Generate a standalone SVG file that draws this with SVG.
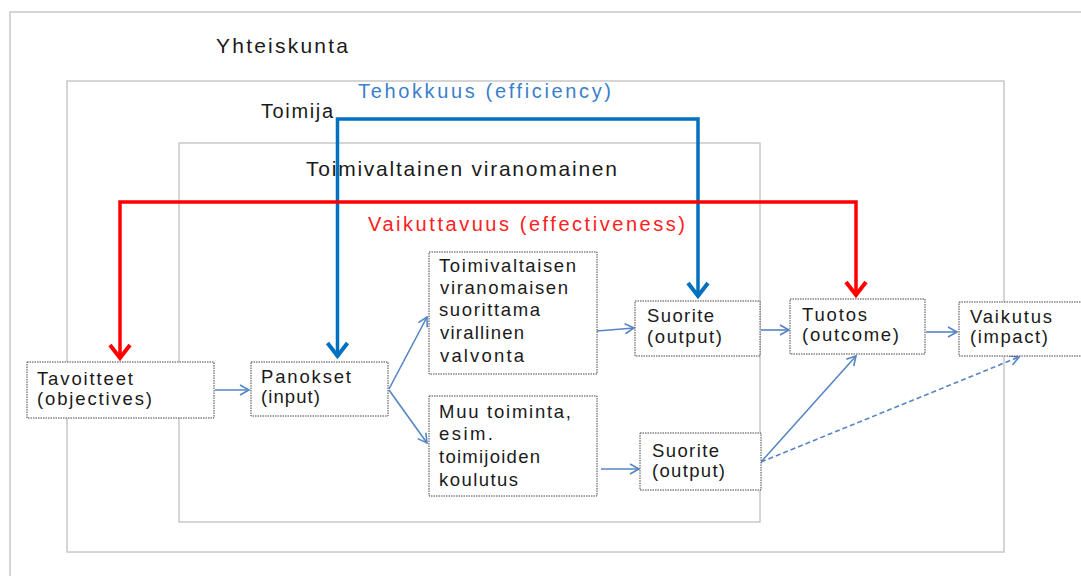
<svg xmlns="http://www.w3.org/2000/svg" width="1081" height="576" viewBox="0 0 1081 576">
<defs>
<style>
.frame{fill:none;stroke:#c8c8c8;stroke-width:1.5}
.box{fill:#fff;stroke:#444;stroke-width:1;stroke-dasharray:1.5 1}
.t{font-family:"Liberation Sans",Arial,sans-serif;fill:#1a1a1a}
.nt{font-size:18.5px}
.thin{fill:none;stroke:#5585C5;stroke-width:1.6}
.dash{stroke-dasharray:5 3}
.blue{fill:none;stroke:#0070C0;stroke-width:3.5}
.red{fill:none;stroke:#FF0000;stroke-width:3.5}
</style>
<marker id="ah" markerUnits="userSpaceOnUse" viewBox="-12 -7 14 14" refX="0" refY="0" markerWidth="14" markerHeight="14" orient="auto">
<path d="M-9,-5 L0,0 L-9,5" fill="none" stroke="#5585C5" stroke-width="1.6"/>
</marker>
<marker id="ab" markerUnits="userSpaceOnUse" viewBox="-18 -13 22 26" refX="0" refY="0" markerWidth="22" markerHeight="26" orient="auto-start-reverse">
<path d="M-14,-10 L-1,0 L-14,10" fill="none" stroke="#0070C0" stroke-width="4"/>
</marker>
<marker id="ar" markerUnits="userSpaceOnUse" viewBox="-18 -13 22 26" refX="0" refY="0" markerWidth="22" markerHeight="26" orient="auto-start-reverse">
<path d="M-14,-10 L-1,0 L-14,10" fill="none" stroke="#FF0000" stroke-width="4"/>
</marker>
</defs>
<rect width="1081" height="576" fill="#fff"/>
<g id="frames">
<rect class="frame" x="10" y="12" width="1100" height="600"/>
<rect class="frame" x="67" y="81" width="937" height="471"/>
<rect class="frame" x="179" y="143" width="581" height="379"/>
<text class="t" x="216" y="53" font-size="21" textLength="132" lengthAdjust="spacing">Yhteiskunta</text>
<text class="t" x="261" y="118" font-size="20" textLength="72" lengthAdjust="spacing">Toimija</text>
<text class="t" x="306" y="176" font-size="21" textLength="311" lengthAdjust="spacing">Toimivaltainen viranomainen</text>
</g>
<g id="connectors">
<path class="blue" d="M337.5,357 V119 H698 V297" marker-start="url(#ab)" marker-end="url(#ab)"/>
<path class="red" d="M120,359 V202 H856 V296" marker-start="url(#ar)" marker-end="url(#ar)"/>
<text class="t" x="358" y="98" font-size="20" style="fill:#3A7FCC" textLength="253" lengthAdjust="spacing">Tehokkuus (efficiency)</text>
<text class="t" x="368" y="231" font-size="20" style="fill:#FF2020" textLength="317" lengthAdjust="spacing">Vaikuttavuus (effectiveness)</text>
<path class="thin" d="M215,390 H249" marker-end="url(#ah)"/>
<path class="thin" d="M389,389 L427,317" marker-end="url(#ah)"/>
<path class="thin" d="M389,390 L427,443" marker-end="url(#ah)"/>
<path class="thin" d="M597,331 L634,328" marker-end="url(#ah)"/>
<path class="thin" d="M601,469 L639,469" marker-end="url(#ah)"/>
<path class="thin" d="M761,330 L789,330" marker-end="url(#ah)"/>
<path class="thin" d="M926,332 L957,332" marker-end="url(#ah)"/>
<path class="thin" d="M761,462 L856,356" marker-end="url(#ah)"/>
<path class="thin dash" d="M761,462 L1019,357" marker-end="url(#ah)"/>
</g>
<g id="n-tavoitteet">
<rect class="box" x="27" y="362" width="187" height="56"/>
<text class="t nt" x="37" y="385" textLength="96" lengthAdjust="spacing">Tavoitteet</text>
<text class="t nt" x="37" y="405" textLength="115" lengthAdjust="spacing">(objectives)</text>
</g>
<g id="n-panokset">
<rect class="box" x="251" y="362" width="137" height="54"/>
<text class="t nt" x="261" y="383" textLength="90" lengthAdjust="spacing">Panokset</text>
<text class="t nt" x="261" y="403" textLength="59" lengthAdjust="spacing">(input)</text>
</g>
<g id="n-valvonta">
<rect class="box" x="429" y="252" width="168" height="122"/>
<text class="t nt" x="439" y="272" textLength="137" lengthAdjust="spacing">Toimivaltaisen</text>
<text class="t nt" x="440" y="294" textLength="128" lengthAdjust="spacing">viranomaisen</text>
<text class="t nt" x="439" y="316" textLength="101" lengthAdjust="spacing">suorittama</text>
<text class="t nt" x="440" y="339" textLength="84" lengthAdjust="spacing">virallinen</text>
<text class="t nt" x="440" y="362" textLength="84" lengthAdjust="spacing">valvonta</text>
</g>
<g id="n-muu">
<rect class="box" x="429" y="396" width="168" height="100"/>
<text class="t nt" x="439" y="418" textLength="132" lengthAdjust="spacing">Muu toiminta,</text>
<text class="t nt" x="439" y="440" textLength="54" lengthAdjust="spacing">esim.</text>
<text class="t nt" x="439" y="463" textLength="101" lengthAdjust="spacing">toimijoiden</text>
<text class="t nt" x="439" y="486" textLength="79" lengthAdjust="spacing">koulutus</text>
</g>
<g id="n-suorite1">
<rect class="box" x="635" y="301" width="125" height="55"/>
<text class="t nt" x="647" y="322" textLength="67" lengthAdjust="spacing">Suorite</text>
<text class="t nt" x="647" y="343" textLength="75" lengthAdjust="spacing">(output)</text>
</g>
<g id="n-suorite2">
<rect class="box" x="640" y="433" width="121" height="57"/>
<text class="t nt" x="652" y="457" textLength="67" lengthAdjust="spacing">Suorite</text>
<text class="t nt" x="652" y="477" textLength="73" lengthAdjust="spacing">(output)</text>
</g>
<g id="n-tuotos">
<rect class="box" x="790" y="299" width="135" height="55"/>
<text class="t nt" x="802" y="321" textLength="65" lengthAdjust="spacing">Tuotos</text>
<text class="t nt" x="802" y="341" textLength="97" lengthAdjust="spacing">(outcome)</text>
</g>
<g id="n-vaikutus">
<rect class="box" x="959" y="302" width="140" height="54"/>
<text class="t nt" x="970" y="323" textLength="82" lengthAdjust="spacing">Vaikutus</text>
<text class="t nt" x="970" y="343" textLength="78" lengthAdjust="spacing">(impact)</text>
</g>
</svg>
